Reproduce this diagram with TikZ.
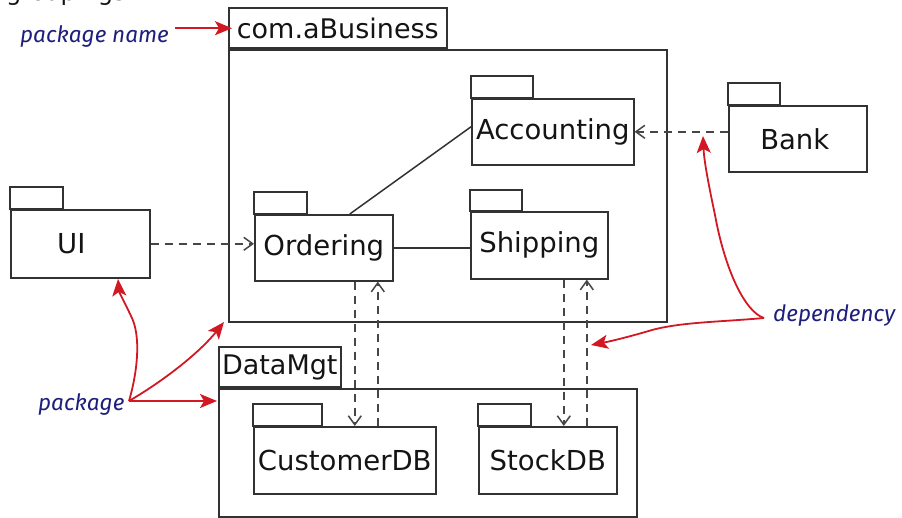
\documentclass[tikz,border=0pt]{standalone}
\usepackage{fontspec}
\setmainfont{DejaVu Sans}
\newfontfamily\notefont{Fira Sans}
\usetikzlibrary{arrows.meta}
\definecolor{boxc}{RGB}{50,50,50}
\definecolor{dashc}{RGB}{70,70,70}
\definecolor{annred}{RGB}{210,25,35}
\definecolor{noteblue}{RGB}{30,30,125}
\definecolor{txt}{RGB}{20,20,20}
\begin{document}
\begin{tikzpicture}[x=1pt,y=-1pt,
  pkg/.style={draw=boxc, line width=1.6pt, inner sep=0pt, anchor=north west,
    font=\fontsize{27.5}{31}\selectfont, text=txt},
  tabline/.style={draw=boxc, line width=1.6pt},
  tabnode/.style={draw=boxc, line width=1.6pt, inner sep=0pt, anchor=south west,
    minimum height=40pt, font=\fontsize{27}{31}\selectfont, text=txt},
  assoc/.style={draw=boxc, line width=1.5pt},
  dep/.style={draw=dashc, line width=1.5pt, dash pattern=on 8pt off 6pt,
    -{Straight Barb[length=9pt,width=13pt,line width=1.5pt]}},
  note/.style={font=\notefont\itshape\fontsize{22.5}{26}\selectfont, text=noteblue, inner sep=0pt},
  ann/.style={draw=annred, line width=1.8pt, -{Stealth[length=17pt,width=14pt,inset=4pt]}}
]
\useasboundingbox (0,0) rectangle (902,518);

% cut-off caption fragment at the top
\node[anchor=base west, inner sep=0pt, font=\fontsize{24}{28}\selectfont, text=txt] (cap) at (6,0.5) {groupings.};

% outer packages
\node[pkg, minimum width=438pt, minimum height=272pt] (com) at (228,49) {};
\node[tabnode, minimum width=218pt] (comtab) at (com.north west) {com.aBusiness};
\node[pkg, minimum width=418pt, minimum height=128pt] (data) at (218,388) {};
\node[tabnode, minimum width=122pt] (datatab) at (data.north west) {DataMgt};

% inner packages
\node[pkg, minimum width=162pt, minimum height=66pt] (acc) at (471,98) {Accounting};
\draw[tabline] (acc.north west) rectangle ++(62,-22);
\node[pkg, minimum width=138pt, minimum height=66pt] (ord) at (254,214) {Ordering};
\draw[tabline] (ord.north west) rectangle ++(53,-22);
\node[pkg, minimum width=137pt, minimum height=67pt] (ship) at (470,211) {Shipping};
\draw[tabline] (ship.north west) rectangle ++(52,-21);
\node[pkg, minimum width=139pt, minimum height=68pt] (ui) at (10,209) {UI\hspace*{18pt}};
\draw[tabline] (ui.north west) rectangle ++(53,-22);
\node[pkg, minimum width=138pt, minimum height=66pt] (bank) at (728,105) {Bank\hspace*{6pt}};
\draw[tabline] (bank.north west) rectangle ++(52,-22);
\node[pkg, minimum width=182pt, minimum height=67pt] (cust) at (253,426) {CustomerDB};
\draw[tabline] (cust.north west) rectangle ++(69,-22);
\node[pkg, minimum width=138pt, minimum height=67pt] (stock) at (478,426) {StockDB};
\draw[tabline] (stock.north west) rectangle ++(53,-22);

% associations
\draw[assoc] ([xshift=26pt]ord.north) -- ([yshift=5pt]acc.west);
\draw[assoc] (ord.east) -- (ord.east -| ship.west);

% dependencies
\draw[dep] (ui.east) -- (ui.east -| ord.west);
\draw[dep] (bank.west |- acc.east) -- (acc.east);
\draw[dep] ([xshift=31pt]ord.south) -- ([xshift=31pt]ord.south |- cust.north);
\draw[dep] ([xshift=33pt]cust.north) -- ([xshift=33pt]cust.north |- ord.south);
\draw[dep] ([xshift=24.5pt]ship.south) -- ([xshift=24.5pt]ship.south |- stock.north);
\draw[dep] ([xshift=39pt]stock.north) -- ([xshift=39pt]stock.north |- ship.south);

% annotations
\node[note, anchor=west] (pkgname) at (20,36) {package name};
\node[note, anchor=west] (pkglbl) at (38,404) {package};
\node[note, anchor=west] (deplbl) at (773,316) {dependency};

\coordinate (pS) at (129,401);
\coordinate (dS) at (764,318);
\coordinate (t1) at (118,279);
\coordinate (t2) at (224,322);
\coordinate (t3) at (217,401);
\coordinate (t4) at (703,136);
\coordinate (t5) at (591,345);

\draw[ann] ([xshift=6pt]pkgname.east |- comtab.west) -- ([xshift=4pt]comtab.west);
\draw[ann] (pS) .. controls (138,370) and (141,335) .. (131,316) .. controls (125,303) and (119,292) .. (t1);
\draw[ann] (pS) .. controls (165,380) and (200,352) .. (t2);
\draw[ann] (pS) -- (t3);
\draw[ann] (dS) .. controls (745,312) and (725,270) .. (715,215) .. controls (708,182) and (704,160) .. (t4);
\draw[ann] (dS) .. controls (720,322) and (682,322) .. (652,330) .. controls (632,336) and (612,341) .. (t5);
\end{tikzpicture}
\end{document}
